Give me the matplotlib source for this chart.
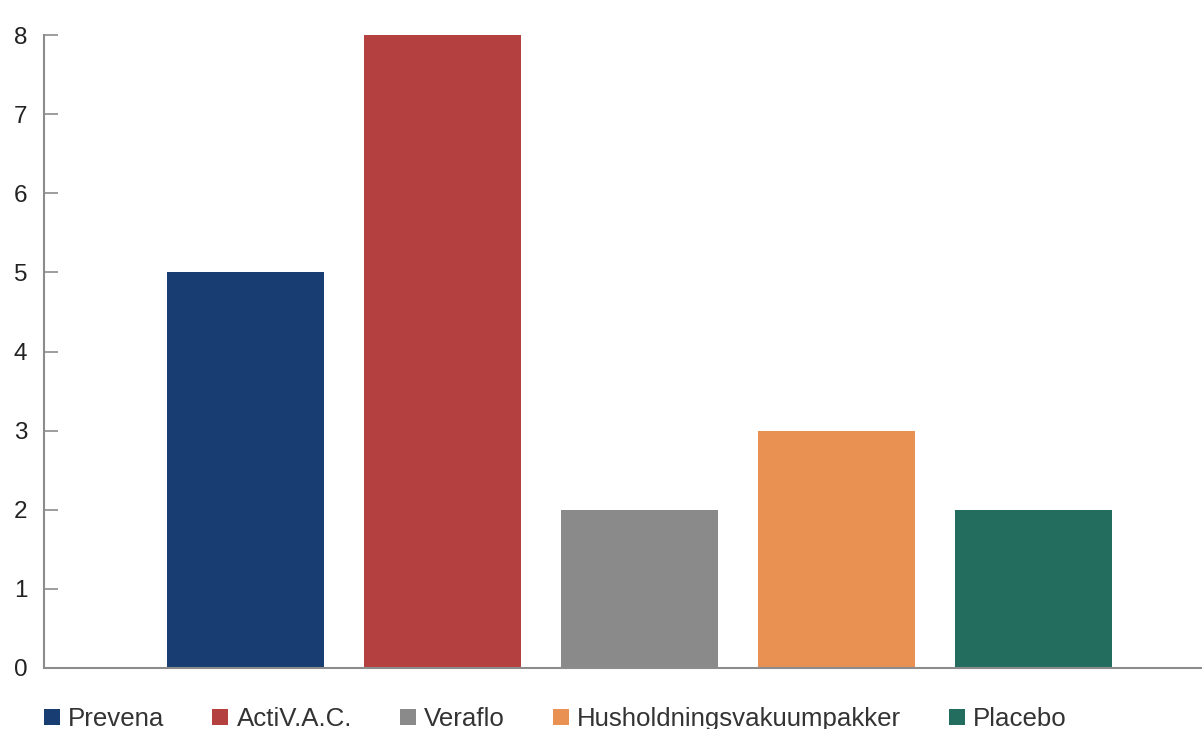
import matplotlib
matplotlib.use('Agg')
import matplotlib.pyplot as plt
from matplotlib.patches import Patch

plt.rcParams['font.family'] = ['Liberation Sans', 'DejaVu Sans']

categories = ['Prevena', 'ActiV.A.C.', 'Veraflo', 'Husholdningsvakuumpakker', 'Placebo']
values = [5, 8, 2, 3, 2]
colors = ['#173d73', '#b54040', '#8a8a8a', '#e89152', '#236d5f']
yticks = [0, 1, 2, 3, 4, 5, 6, 7, 8]

fig = plt.figure(figsize=(12.02, 7.29), dpi=100)
ax = fig.add_axes([44/1202, 1 - 668/729, 1 - 44/1202, (668 - 35)/729])

x = list(range(len(categories)))
ax.bar(x, values, width=0.8, color=colors, linewidth=0, zorder=2)

ax.set_xlim(-1.023, 4.855)
ax.set_ylim(0, 8)
ax.set_xticks([])
ax.set_yticks(yticks)
ax.set_yticklabels([str(t) for t in yticks])
ax.tick_params(axis='y', direction='in', length=10, width=1.2, color='#8c8c8c',
               labelsize=17.5, labelcolor='#222222', pad=12)

for s in ['top', 'right']:
    ax.spines[s].set_visible(False)
for s in ['left', 'bottom']:
    ax.spines[s].set_color('#8c8c8c')
    ax.spines[s].set_linewidth(1.5)
    ax.spines[s].set_zorder(3)

handles = [Patch(facecolor=c, edgecolor='none', label=l) for c, l in zip(colors, categories)]
fig.legend(handles=handles, loc='center left', bbox_to_anchor=(44/1202, 1 - 719/729),
           ncol=5, frameon=False, fontsize=18.6, borderpad=0, borderaxespad=0,
           handlelength=0.62, handleheight=0.62, handletextpad=0.31, columnspacing=1.86,
           labelcolor='#333333')

fig.savefig('out.png', dpi=100)
